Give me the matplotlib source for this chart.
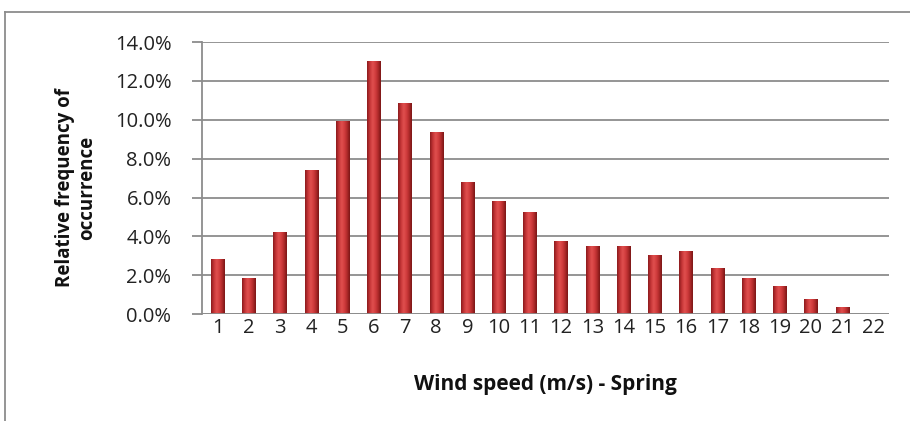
import numpy as np
import matplotlib
matplotlib.use("Agg")
import matplotlib.pyplot as plt
from matplotlib.colors import LinearSegmentedColormap
from matplotlib.lines import Line2D

# wind speed classes and relative frequency (%)
speeds = [str(i) for i in range(1, 23)]
freq = [2.83, 1.85, 4.2, 7.44, 9.95, 13.05, 10.84, 9.37, 6.8, 5.8, 5.25,
        3.78, 3.49, 3.49, 3.06, 3.27, 2.39, 1.86, 1.43, 0.77, 0.35, 0.0]
yticks = [0, 2, 4, 6, 8, 10, 12, 14]

plt.rcParams['font.family'] = ['Open Sans', 'DejaVu Sans']

fig = plt.figure(figsize=(9.10, 4.21), dpi=100)
ax = fig.add_axes([0.222, 0.254, 0.755, 0.646])

x = np.arange(len(speeds))
bars = ax.bar(x, freq, width=0.43, color='#c83537', zorder=3)

# cylinder-like shading on each bar
cmap = LinearSegmentedColormap.from_list(
    'cyl', ['#8a1a1c', '#c53436', '#e0504f', '#d23e3f', '#b02a2a', '#7a1616'])
grad = np.linspace(0, 1, 64).reshape(1, -1)
for b in bars:
    h = b.get_height()
    if h <= 0:
        continue
    x0 = b.get_x()
    w = b.get_width()
    im = ax.imshow(grad, cmap=cmap, aspect='auto', zorder=4,
                   extent=(x0, x0 + w, 0, h), interpolation='bicubic')
    im.set_clip_path(b)

ax.set_xlim(-0.5, len(speeds) - 0.5)
ax.set_ylim(0, 14)
ax.set_xticks(x)
ax.set_xticklabels(speeds)
ax.set_yticks(yticks)
ax.set_yticklabels(['%.1f%%' % v for v in yticks])

ax.grid(axis='y', color='#8c8c8c', linewidth=1.3, zorder=0)
for s in ['top', 'right', 'bottom']:
    ax.spines[s].set_visible(False)
ax.spines['left'].set_color('#8c8c8c')
ax.spines['left'].set_linewidth(1.3)
ax.tick_params(axis='y', length=7, color='#8c8c8c', width=1.3, labelsize=14.5,
               pad=15, labelcolor='#222222')
ax.tick_params(axis='x', length=0, labelsize=14.5, pad=3, labelcolor='#222222')
ax.axhline(0, color='#8c8c8c', linewidth=1.3, zorder=5)

ax.set_xlabel('Wind speed (m/s) - Spring', fontsize=15, fontweight='bold',
              labelpad=26, color='#111111')
ax.set_ylabel('Relative frequency of\noccurrence', fontsize=13.5,
              fontweight='bold', color='#111111')
ax.yaxis.set_label_coords(-0.152, 0.465)

# outer frame of the chart
fig.add_artist(Line2D([0.0055, 0.0055], [0, 0.971], color='#8c8c8c', lw=1.3))
fig.add_artist(Line2D([0.0055, 1.0], [0.971, 0.971], color='#8c8c8c', lw=1.3))

fig.savefig('out.png', dpi=100)
